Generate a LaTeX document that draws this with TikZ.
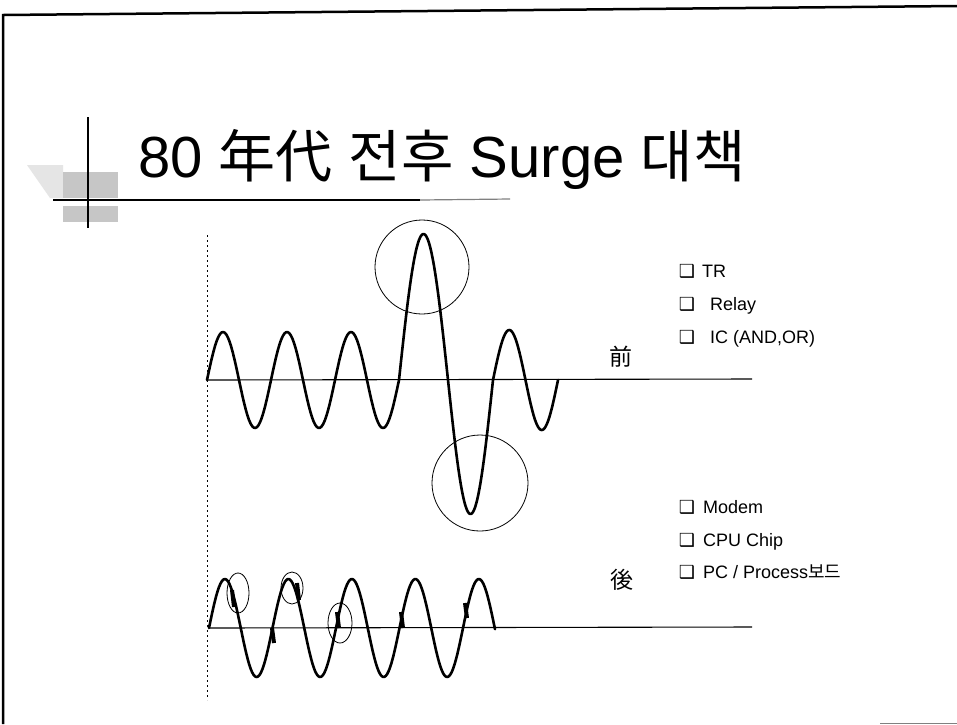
\documentclass[tikz,border=0pt]{standalone}
\usepackage{fontspec}
\setmainfont{Liberation Sans}
\newfontfamily\kofont{Noto Sans CJK KR}
\newfontfamily\symfont{DejaVu Sans}
\newcommand{\pcboard}{PC / Process{\kofont 보드}}
\newcommand{\cjk}[1]{{\kofont\fontsize{57}{60}\selectfont #1}}

\begin{document}
\begin{tikzpicture}[x=1pt,y=-1pt,
  wave/.style={line width=2.6pt,line join=round,line cap=round},
  axisline/.style={line width=1.1pt},
  ring/.style={line width=0.8pt},
  glitch/.style={line width=4pt},
  sqbox/.style={anchor=base,inner sep=0pt,font=\symfont\fontsize{18}{20}\selectfont},
  itemtxt/.style={anchor=base west,inner sep=0pt,font=\fontsize{18}{20}\selectfont},
  hanja/.style={inner sep=0pt,font=\kofont\fontsize{23}{26}\selectfont}]
  \useasboundingbox (0,0) rectangle (957,724);
  \fill[white] (0,0) rectangle (957,724);
  % page frame
  \draw[line width=2.5pt] (3,724) -- (3,15) -- (957,6);
  \draw[gray,line width=1pt] (880,723) -- (957,723);
  % title mark
  \fill[gray!20] (27,165) -- (63,165) -- (63,198) -- (50,198) -- cycle;
  \fill[gray!45] (63,172) rectangle (118,198);
  \fill[gray!45] (63,206) rectangle (118,222);
  \draw[line width=2.5pt] (88,117) -- (88,228);
  \draw[line width=2.5pt] (53,200) -- (420,200);
  \draw[gray,line width=1.2pt] (420,200) -- (510,199);
  \node[anchor=base west,inner sep=0pt,font=\fontsize{58}{62}\selectfont] (title) at (138,177)
    {80 \cjk{年代} \cjk{전후} Surge \cjk{대책}};
  % time line
  \draw[line width=1pt,dash pattern=on 2pt off 3pt] (207,235) -- (207,700);
  % before
  \draw[axisline] (207,380) -- (752,379);
  \draw[wave] plot[domain=207:399,samples=120] (\x,{380-48*sin((\x-207)/64*360)})
    -- plot[domain=399:448,samples=50] (\x,{380-146*sin((\x-399)/49*180)})
    -- plot[domain=448:493,samples=50] (\x,{380+134*sin((\x-448)/45*180)})
    -- plot[domain=493:558,samples=70] (\x,{380-50*sin((\x-493)/65*360)});
  \draw[ring] (422,267) circle[radius=47];
  \draw[ring] (480,483) circle[radius=48];
  % after
  \draw[axisline] (209,628) -- (752,627);
  \draw[wave] plot[domain=209:495,samples=200] (\x,{628-49*sin((\x-209)/63.5*360)});
  \foreach \gx/\ga/\gb in {232/590/607,297/583/600,272/628/643,337/612/628,401/612/628,465/603/618}
    \draw[glitch] (\gx,\ga) -- (\gx+2,\gb);
  \draw[ring] (238,593) ellipse[x radius=11,y radius=20];
  \draw[ring] (292,588) ellipse[x radius=11,y radius=16];
  \draw[ring] (340,623) ellipse[x radius=12,y radius=20];
  % labels
  \node[hanja] (before) at (621,357) {前};
  \node[hanja] (after) at (622,580) {後};
  \foreach \i/\y/\tx/\t in {1/277/702/TR,2/310/710/Relay,3/343/710/{IC (AND,OR)}} {
    \node[sqbox] (pa\i) at (687,\y) {❑};
    \node[itemtxt] (ta\i) at (\tx,\y) {\t};
  }
  \foreach \i/\y/\t in {1/513/Modem,2/546/CPU Chip,3/578/\pcboard} {
    \node[sqbox] (pb\i) at (687,\y) {❑};
    \node[itemtxt] (tb\i) at (703,\y) {\t};
  }
\end{tikzpicture}
\end{document}
